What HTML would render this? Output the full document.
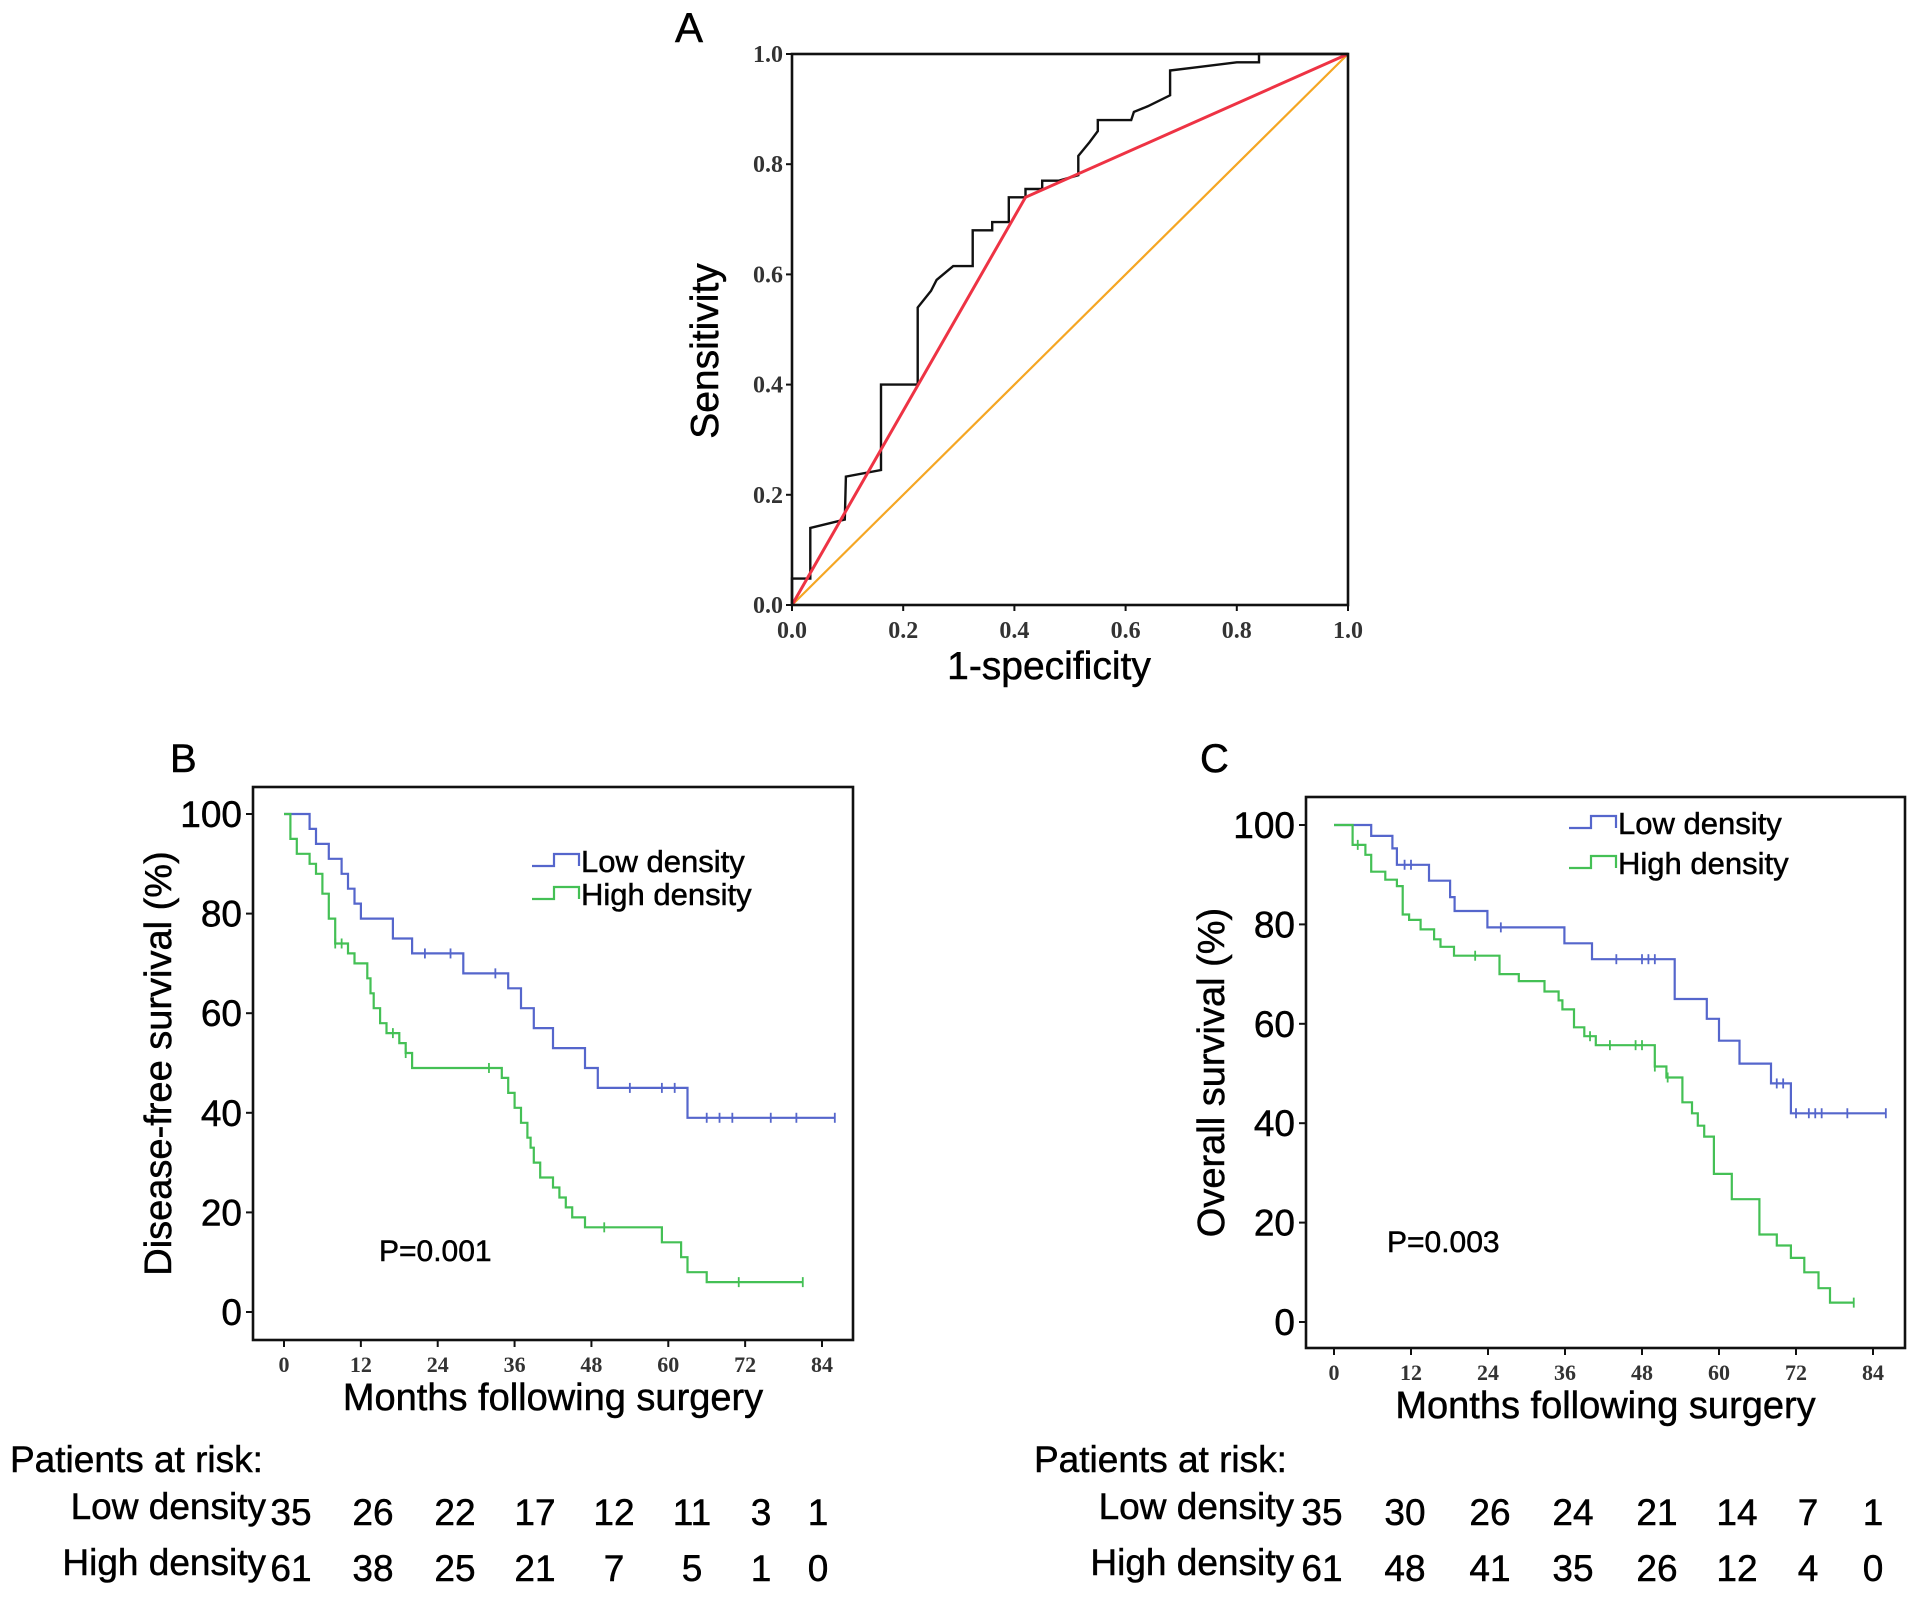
<!DOCTYPE html>
<html><head><meta charset="utf-8"><style>
html,body{margin:0;padding:0;background:#fff;}
svg{display:block;}
.sans{font-family:"Liberation Sans",Arial,sans-serif;stroke:#000;stroke-width:0.5;}
.serif{font-family:"Liberation Serif","Times New Roman",serif;font-weight:bold;}
</style></head><body>
<svg id="fig" width="1913" height="1597" viewBox="0 0 1913 1597" xmlns="http://www.w3.org/2000/svg">
<g id="rocG"></g>
<g id="bG"></g>
<g id="cG"></g>
</svg>
<script>
// ROC data
const rocX = [0,0,0.033,0.033,0.095,0.097,0.16,0.16,0.226,0.226,0.25,0.26,0.29,0.325,0.325,0.36,0.36,0.39,0.39,0.42,0.42,0.45,0.45,0.48,0.515,0.515,0.535,0.55,0.55,0.61,0.615,0.64,0.68,0.68,0.72,0.8,0.84,0.84,1];
const rocY = [0,0.048,0.048,0.14,0.155,0.233,0.245,0.40,0.40,0.54,0.57,0.59,0.615,0.615,0.68,0.68,0.695,0.695,0.74,0.74,0.755,0.755,0.77,0.77,0.78,0.815,0.84,0.86,0.88,0.88,0.895,0.905,0.925,0.97,0.975,0.985,0.985,1,1];
const cutX = [0,0.42,1];
const cutY = [0,0.74,1];
const rocTicks = ["0.0","0.2","0.4","0.6","0.8","1.0"];

// Panel B (disease-free survival)
const bLowT = [0,4,5,7,9,10,11,12,17,20,28,35,37,39,42,47,49,63];
const bLowS = [100,97,94,91,88,85,82,79,75,72,68,65,61,57,53,49,45,39];
const bLowEnd = 86;
const bLowCens = [22,26,33,54,59,61,66,68,70,76,80,86];
const bHighT = [0,1,2,4,5,6,7,8,10,11,13,13.5,14,15,16,18,19,20,34,35,36,37,38,38.5,39,40,42,43,44,45,47,59,62,63,66];
const bHighS = [100,95,92,90,88,84,79,74,72,70,67,64,61,58,56,54,52,49,47,44,41,38,35,33,30,27,25,23,21,19,17,14,11,8,6];
const bHighEnd = 81;
const bHighCens = [8,9,17,19,32,50,71,81];
const bRiskLow = [35,26,22,17,12,11,3,1];
const bRiskHigh = [61,38,25,21,7,5,1,0];

// Panel C (overall survival)
const cLowT = [0,5.8,9.1,9.8,14.8,18.1,18.8,23.9,35.9,40.2,53.1,58.1,60,63.2,68.1,71.2];
const cLowS = [100,97.8,95.3,92,88.8,85.5,82.7,79.4,76.2,73,65,61,56.6,52,48,42];
const cLowEnd = 86;
const cLowCens = [11,12,26,44,48,49,50,69,70,72,74,75,76,80,86];
const cHighT = [0,2.9,4.9,5.8,8,9.8,10.7,11.7,13.5,15.6,16.6,18.7,25.8,28.8,32.8,35,35.6,37.4,39,40.8,50,51.8,54.3,55.8,56.7,57.7,59.2,62,66.3,69,71.2,73.3,75.5,77.3];
const cHighS = [100,96,94,90.6,89,87.7,82,80.9,79,77,75.5,73.7,70,68.6,66.5,64.7,62.9,59.3,57.5,55.7,51.4,49.2,44.2,42,39.5,37.3,29.8,24.7,17.6,15.4,12.9,10,6.8,3.9];
const cHighEnd = 81;
const cHighCens = [3.7,22,39.9,43,47,48,50,52,81];
const cRiskLow = [35,30,26,24,21,14,7,1];
const cRiskHigh = [61,48,41,35,26,12,4,0];

const monthTicks = [0,12,24,36,48,60,72,84];
const survTicks = [0,20,40,60,80,100];

const NS = "http://www.w3.org/2000/svg";
function mk(parent, tag, attrs, text){
  const e = document.createElementNS(NS, tag);
  for (const k in attrs) e.setAttribute(k, attrs[k]);
  if (text !== undefined) e.textContent = text;
  parent.appendChild(e);
  return e;
}

// ---------- ROC ----------
(function(){
  const g = document.getElementById('rocG');
  const L=792,R=1348,T=54,B=605;
  const sx = v => L + v*(R-L), sy = v => B - v*(B-T);
  let t = mk(g,'text',{x:675,y:42,'font-size':42,class:'sans'},'A');
  
  
  let l = mk(g,'line',{x1:sx(0),y1:sy(0),x2:sx(1),y2:sy(1),stroke:'#f5a623','stroke-width':2.2});
  
  
  let d = rocX.map((v,i)=>(i?'L':'M')+sx(v).toFixed(1)+' '+sy(rocY[i]).toFixed(1)).join(' ');
  let p = mk(g,'path',{d:d,fill:'none',stroke:'#111','stroke-width':2.4});
  
  
  d = cutX.map((v,i)=>(i?'L':'M')+sx(v).toFixed(1)+' '+sy(cutY[i]).toFixed(1)).join(' ');
  p = mk(g,'path',{d:d,fill:'none',stroke:'#ee3344','stroke-width':3});
  
  
  let r = mk(g,'rect',{x:L,y:T,width:R-L,height:B-T,fill:'none',stroke:'#111','stroke-width':2.6});
  
  
  rocTicks.forEach((lab,i)=>{
    const v = i/5;
    mk(g,'line',{x1:L-6,y1:sy(v),x2:L,y2:sy(v),stroke:'#111','stroke-width':2});
    mk(g,'line',{x1:sx(v),y1:B,x2:sx(v),y2:B+6,stroke:'#111','stroke-width':2});
    let ty = mk(g,'text',{x:L-9,y:sy(v)+8,'font-size':24,'text-anchor':'end',class:'serif',fill:'#333'},lab);
    
    
    let tx = mk(g,'text',{x:sx(v),y:638,'font-size':24,'text-anchor':'middle',class:'serif',fill:'#333'},lab);
    
    
  });
  t = mk(g,'text',{x:1049,y:679,'font-size':39,'text-anchor':'middle',class:'sans'},'1-specificity');
  
  
  t = mk(g,'text',{x:718,y:351,'font-size':39,'text-anchor':'middle',class:'sans',transform:'rotate(-90 718 351)'},'Sensitivity');
  
  
})();

// ---------- KM panels ----------
function km(cfg){
  const g = document.getElementById(cfg.gid);
  const sx = m => cfg.x0 + m*(cfg.x84-cfg.x0)/84;
  const sy = s => cfg.y0 - s*(cfg.y0-cfg.y100)/100;
  let t = mk(g,'text',{x:cfg.letterX,y:772,'font-size':40,class:'sans'},cfg.letter);
  
  
  function series(T,S,end,cens,color,name){
    let d = 'M'+sx(T[0])+' '+sy(S[0]);
    for (let i=1;i<T.length;i++){ d += ' H'+sx(T[i]).toFixed(1)+' V'+sy(S[i]).toFixed(1); }
    d += ' H'+sx(end).toFixed(1);
    const p = mk(g,'path',{d:d,fill:'none',stroke:color,'stroke-width':2.2});
    
    
    cens.forEach(c=>{
      let s=S[0]; for(let i=0;i<T.length;i++){ if(T[i]<=c) s=S[i]; }
      const m = mk(g,'line',{x1:sx(c),y1:sy(s)-5,x2:sx(c),y2:sy(s)+5,stroke:color,'stroke-width':1.8});
      
      
    });
  }
  series(cfg.lowT,cfg.lowS,cfg.lowEnd,cfg.lowC,'#5566cc','low-density');
  series(cfg.highT,cfg.highS,cfg.highEnd,cfg.highC,'#44c055','high-density');
  const r = mk(g,'rect',{x:cfg.L,y:cfg.T,width:cfg.R-cfg.L,height:cfg.B-cfg.T,fill:'none',stroke:'#111','stroke-width':2.6});
  
  
  survTicks.forEach(v=>{
    mk(g,'line',{x1:cfg.L-7,y1:sy(v),x2:cfg.L,y2:sy(v),stroke:'#111','stroke-width':2});
    const e = mk(g,'text',{x:cfg.L-11,y:sy(v)+13,'font-size':37,'text-anchor':'end',class:'sans'},String(v));
    
    
  });
  monthTicks.forEach(v=>{
    mk(g,'line',{x1:sx(v),y1:cfg.B,x2:sx(v),y2:cfg.B+7,stroke:'#111','stroke-width':2});
    const e = mk(g,'text',{x:sx(v),y:cfg.B+32,'font-size':22,'text-anchor':'middle',class:'serif',fill:'#333'},String(v));
    
    
  });
  const cx = (cfg.L+cfg.R)/2;
  t = mk(g,'text',{x:cx,y:cfg.B+70,'font-size':38,'text-anchor':'middle',class:'sans'},'Months following surgery');
  
  
  const ym=(cfg.T+cfg.B)/2;
  t = mk(g,'text',{x:cfg.yTitleX,y:ym,'font-size':38,'text-anchor':'middle',class:'sans',transform:'rotate(-90 '+cfg.yTitleX+' '+ym+')'},cfg.yTitle);
  
  
  [['Low density','#5566cc',cfg.legY1],['High density','#44c055',cfg.legY2]].forEach(([lab,col,y])=>{
    const lx = cfg.legX;
    const p = mk(g,'path',{d:`M${lx-52} ${y-6} H${lx-30} V${y-18} H${lx-5} V${y-6}`,fill:'none',stroke:col,'stroke-width':2.2});
    
    
    const e = mk(g,'text',{x:lx-3,y:y,'font-size':31,class:'sans'},lab);
    
    
  });
  t = mk(g,'text',{x:cfg.pX,y:cfg.pY,'font-size':30,class:'sans'},cfg.pText);
  
  
  t = mk(g,'text',{x:cfg.riskX,y:1472,'font-size':37,class:'sans'},'Patients at risk:');
  
  
  [['Low density',cfg.riskLow,1525],['High density',cfg.riskHigh,1581]].forEach(([lab,arr,y])=>{
    const e = mk(g,'text',{x:cfg.riskLabR,y:y-6,'font-size':37,'text-anchor':'end',class:'sans'},lab);
    
    
    arr.forEach((n,i)=>{
      const ex = mk(g,'text',{x:cfg.numX[i],y:y,'font-size':37,'text-anchor':'middle',class:'sans'},String(n));
      
      
    });
  });
}
km({gid:'bG',letter:'B',letterX:170,L:253,R:853,T:787,B:1340,x0:284,x84:822,y0:1312,y100:814,
  lowT:bLowT,lowS:bLowS,lowEnd:bLowEnd,lowC:bLowCens,highT:bHighT,highS:bHighS,highEnd:bHighEnd,highC:bHighCens,
  yTitle:'Disease-free survival (%)',yTitleX:171,legX:584,legY1:872,legY2:905,pX:379,pY:1261,pText:'P=0.001',
  riskX:10,riskLabR:266,riskLow:bRiskLow,riskHigh:bRiskHigh,numX:[291,373,455,535,614,692,761,818]});
km({gid:'cG',letter:'C',letterX:1200,L:1306,R:1905,T:797,B:1348,x0:1334,x84:1873,y0:1322,y100:825,
  lowT:cLowT,lowS:cLowS,lowEnd:cLowEnd,lowC:cLowCens,highT:cHighT,highS:cHighS,highEnd:cHighEnd,highC:cHighCens,
  yTitle:'Overall survival (%)',yTitleX:1224,legX:1621,legY1:834,legY2:874,pX:1387,pY:1252,pText:'P=0.003',
  riskX:1034,riskLabR:1294,riskLow:cRiskLow,riskHigh:cRiskHigh,numX:[1322,1405,1490,1573,1657,1737,1808,1873]});
</script>
</body></html>
